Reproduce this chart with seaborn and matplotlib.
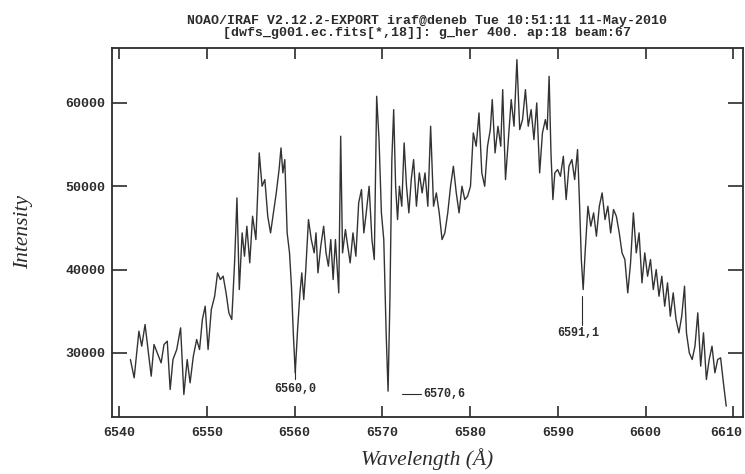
import numpy as np
import pandas as pd
import matplotlib
matplotlib.use('Agg')
import matplotlib.pyplot as plt
import matplotlib.transforms as mtransforms
import seaborn as sns

# ── DATA ───────────────────────────────────────────────────────
wavelength = [
    6541.30, 6541.73, 6542.27, 6542.59, 6542.97, 6543.35, 6543.67, 6543.99,
    6544.43, 6544.80, 6545.13, 6545.50, 6545.83, 6546.15, 6546.58, 6547.02,
    6547.39, 6547.77, 6548.10, 6548.47, 6548.85, 6549.18, 6549.50, 6549.82,
    6550.15, 6550.52, 6550.90, 6551.23, 6551.55, 6551.87, 6552.20, 6552.52,
    6552.85, 6553.17, 6553.44, 6553.71, 6554.03, 6554.30, 6554.57, 6554.90,
    6555.22, 6555.60, 6555.98, 6556.30, 6556.62, 6556.95, 6557.27, 6557.59,
    6557.92, 6558.24, 6558.46, 6558.67, 6558.89, 6559.16, 6559.43, 6559.65,
    6559.86, 6560.08, 6560.35, 6560.62, 6560.83, 6561.05, 6561.26, 6561.59,
    6561.91, 6562.24, 6562.45, 6562.67, 6562.99, 6563.32, 6563.59, 6563.86,
    6564.13, 6564.40, 6564.66, 6565.04, 6565.26, 6565.47, 6565.80, 6566.01,
    6566.34, 6566.66, 6566.99, 6567.31, 6567.63, 6567.90, 6568.17, 6568.50,
    6568.82, 6569.09, 6569.36, 6569.63, 6569.90, 6570.17, 6570.44, 6570.66,
    6570.87, 6571.09, 6571.30, 6571.52, 6571.74, 6571.95, 6572.22, 6572.49,
    6572.76, 6573.03, 6573.30, 6573.57, 6573.89, 6574.22, 6574.54, 6574.87,
    6575.19, 6575.51, 6575.84, 6576.16, 6576.49, 6576.81, 6577.13, 6577.46,
    6577.78, 6578.10, 6578.43, 6578.75, 6579.08, 6579.40, 6579.72, 6580.05,
    6580.37, 6580.70, 6581.02, 6581.34, 6581.67, 6581.99, 6582.31, 6582.53,
    6582.85, 6583.18, 6583.50, 6583.72, 6584.04, 6584.37, 6584.69, 6585.01,
    6585.34, 6585.66, 6585.98, 6586.31, 6586.63, 6586.96, 6587.28, 6587.60,
    6587.93, 6588.25, 6588.58, 6588.79, 6589.01, 6589.22, 6589.44, 6589.66,
    6589.98, 6590.30, 6590.63, 6590.95, 6591.27, 6591.60, 6591.92, 6592.25,
    6592.46, 6592.68, 6592.89, 6593.11, 6593.43, 6593.76, 6594.08, 6594.40,
    6594.73, 6595.05, 6595.38, 6595.70, 6596.02, 6596.35, 6596.67, 6597.00,
    6597.32, 6597.64, 6597.97, 6598.29, 6598.61, 6598.94, 6599.26, 6599.59,
    6599.91, 6600.23, 6600.56, 6600.88, 6601.21, 6601.53, 6601.85, 6602.18,
    6602.50, 6602.82, 6603.15, 6603.47, 6603.80, 6604.12, 6604.44, 6604.66,
    6604.98, 6605.31, 6605.63, 6605.95, 6606.28, 6606.60, 6606.93, 6607.25,
    6607.57, 6607.90, 6608.22, 6608.55, 6608.87, 6609.19,
]
intensity = [
    29200, 27000, 32600, 30800, 33400, 30000, 27200, 31000,
    29800, 28800, 31000, 31400, 25600, 29200, 30400, 33000,
    25000, 29200, 26400, 29600, 31600, 30400, 34000, 35600,
    30400, 35200, 36800, 39600, 38800, 39200, 37200, 34800,
    34000, 40800, 48600, 37600, 44400, 41600, 45200, 40800,
    46400, 43600, 54000, 50000, 50800, 46400, 44400, 46800,
    49200, 52000, 54600, 51600, 53200, 44400, 42000, 38000,
    32400, 27600, 32800, 37200, 39600, 36400, 39600, 46000,
    43600, 42000, 44400, 39600, 42800, 45200, 42000, 40400,
    43600, 38800, 43600, 37200, 56000, 42000, 44800, 43200,
    40800, 44400, 41600, 48000, 49600, 44400, 46800, 50000,
    43600, 41200, 60800, 55600, 46800, 43600, 32400, 25400,
    36400, 53200, 59200, 50000, 46000, 50000, 47600, 55200,
    50000, 46800, 50800, 53200, 47600, 51600, 49200, 51600,
    47600, 57200, 47600, 49200, 46800, 43600, 44400, 46800,
    50000, 52400, 49200, 46800, 50000, 48400, 48800, 50000,
    56400, 54800, 58800, 51600, 50000, 54800, 56800, 60400,
    54000, 57200, 54800, 61600, 50800, 55600, 60400, 57200,
    65200, 56800, 58000, 61600, 57200, 59200, 55600, 60000,
    51600, 56400, 58000, 56800, 63200, 54000, 48400, 51600,
    52000, 51200, 53600, 48400, 52400, 53200, 50800, 54400,
    48400, 41200, 37600, 42000, 47600, 45200, 46800, 44000,
    47600, 49200, 46000, 47600, 44400, 47200, 46400, 44400,
    42000, 41200, 37200, 40800, 46800, 42000, 44400, 38400,
    42000, 39200, 41200, 37600, 40000, 36800, 39200, 35600,
    38400, 34400, 37200, 34000, 32400, 34400, 38000, 32400,
    30000, 29200, 30800, 34800, 28400, 32400, 26800, 29200,
    30800, 27600, 29200, 29400, 26400, 23600,
]

x_ticks = [6540, 6550, 6560, 6570, 6580, 6590, 6600, 6610]
y_ticks = [30000, 40000, 50000, 60000]

line_labels = ['6560,0', '6570,6', '6591,1']
line_wl = [6560.1, 6570.6, 6592.7]

title_1 = 'NOAO/IRAF V2.12.2-EXPORT iraf@deneb Tue 10:51:11 11-May-2010'
title_2 = '[dwfs_g001.ec.fits[*,18]]: g_her 400. ap:18 beam:67'

spec = pd.DataFrame({'Wavelength': wavelength, 'Intensity': intensity})

# ── STYLE ──────────────────────────────────────────────────────
sns.set_theme(style='ticks')
plt.rcParams['font.family'] = ['Liberation Mono', 'DejaVu Sans']

ink = '#2b2b2b'
fig = plt.figure(figsize=(7.45, 4.74), dpi=100)
ax = fig.add_axes([0.1503, 0.1203, 0.847, 0.7785])

sns.lineplot(data=spec, x='Wavelength', y='Intensity', ax=ax,
             color='#333333', linewidth=1.0, estimator=None, sort=False)

ax.set_xlim(6539.2, 6611.1)
ax.set_ylim(22300, 66600)
ax.set_xticks(x_ticks)
ax.set_yticks(y_ticks)
ax.set_xticklabels([str(t) for t in x_ticks], fontsize=9.5, fontweight='bold', color=ink)
ax.set_yticklabels([str(t) for t in y_ticks], fontsize=9.5, fontweight='bold', color=ink)
ax.tick_params(axis='x', direction='in', length=8, width=1.2, color=ink,
               top=True, pad=7)
ax.tick_params(axis='y', direction='in', length=11, width=1.2, color=ink,
               right=True, pad=5)
for sp in ax.spines.values():
    sp.set_linewidth(1.3)
    sp.set_color(ink)
    sp.set_visible(True)

# the last x label sits at the figure edge: nudge it inward a little
last = ax.get_xticklabels()[-1]
last.set_transform(last.get_transform() +
                   mtransforms.ScaledTranslation(-7 / 100, 0, fig.dpi_scale_trans))

ax.set_xlabel('Wavelength (Å)', family='Liberation Serif', style='italic',
              fontsize=15.5, color=ink)
ax.set_ylabel('Intensity', family='Liberation Serif', style='italic',
              fontsize=15.5, color=ink)
ax.xaxis.set_label_coords(0.5, -(459 - 417) / 369)
ax.xaxis.label.set_va('center')
ax.yaxis.set_label_coords(-(112 - 24) / 631, 0.5)
ax.yaxis.label.set_va('center')

# ── LINE IDENTIFICATIONS ───────────────────────────────────────
lab_kw = dict(fontsize=8.5, fontweight='bold', color=ink)
# 6560,0 : short vertical mark under the line, label below
ax.plot([line_wl[0], line_wl[0]], [28000, 26800], color=ink, lw=0.8)
ax.text(line_wl[0], 25600, line_labels[0], ha='center', va='center', **lab_kw)
# 6570,6 : horizontal leader to the right
ax.plot([6572.3, 6574.4], [25100, 25100], color=ink, lw=0.8)
ax.text(6574.7, 25100, line_labels[1], ha='left', va='center', **lab_kw)
# 6591,1 : vertical mark, label below
ax.plot([line_wl[2], line_wl[2]], [36800, 33400], color=ink, lw=0.8)
ax.text(line_wl[2] - 0.4, 32400, line_labels[2], ha='center', va='center', **lab_kw)

fig.text(0.573, 1 - 21 / 474, title_1, ha='center', va='center',
         fontsize=9.5, fontweight='bold', color=ink)
fig.text(0.573, 1 - 33 / 474, title_2, ha='center', va='center',
         fontsize=9.5, fontweight='bold', color=ink)

fig.savefig('out.png', dpi=100)
plt.close(fig)
